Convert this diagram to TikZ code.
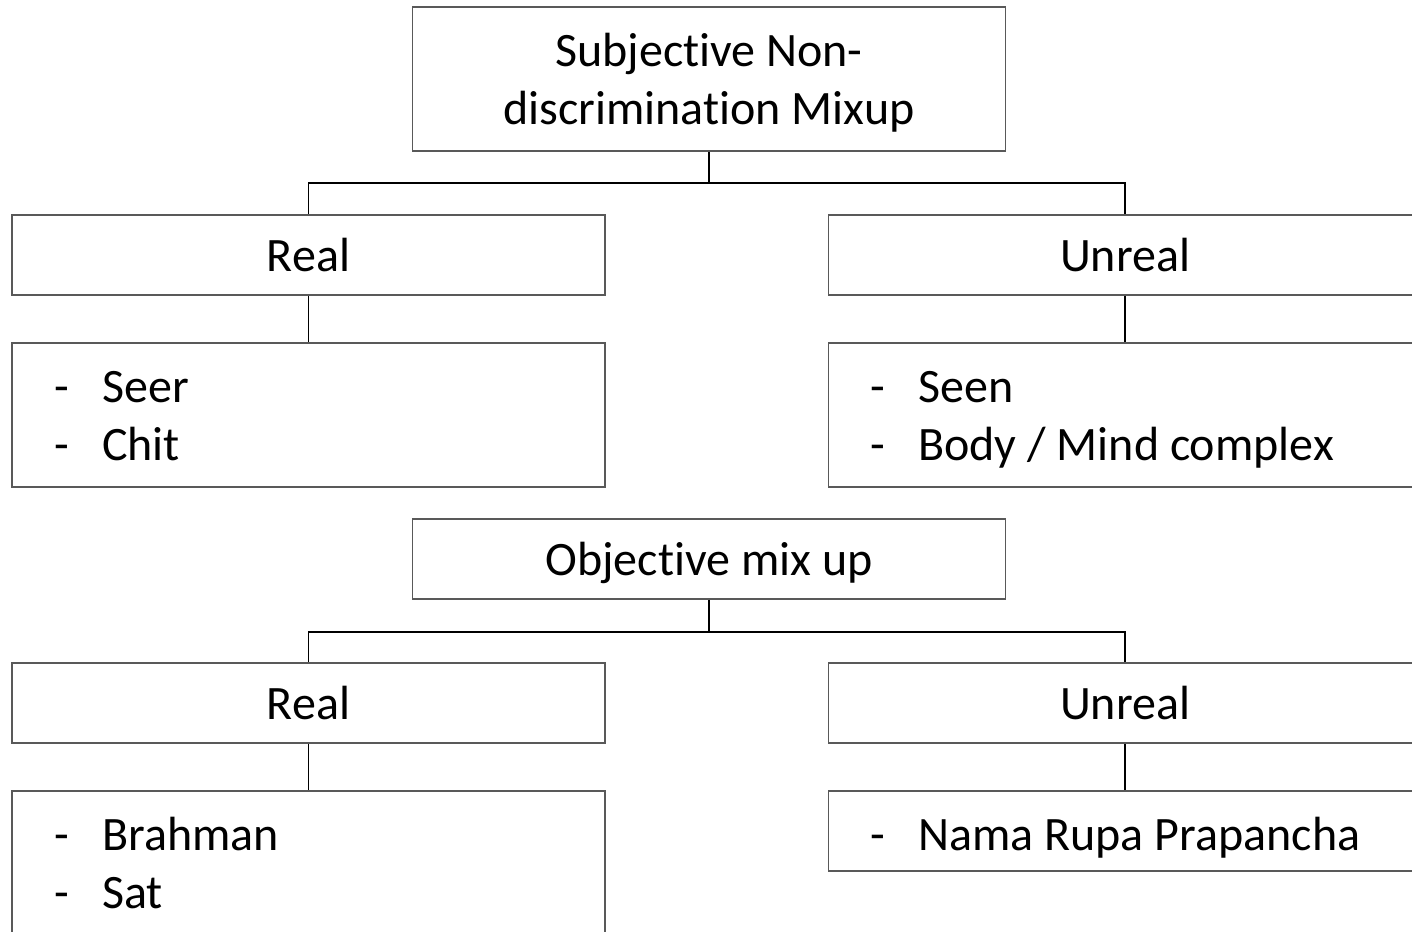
\documentclass[tikz,border=0pt]{standalone}
\usepackage{fontspec}
\setmainfont{Carlito}[Ligatures=NoCommon]
\definecolor{boxgray}{HTML}{595959}
\begin{document}
\begin{tikzpicture}[x=1pt,y=-1pt,
  box/.style={draw=boxgray, line width=1.5pt, inner sep=0pt, align=center,
    minimum width=593pt, font=\fontsize{48}{58}\selectfont},
  shortbox/.style={box, minimum height=80pt},
  tallbox/.style={box, minimum height=144pt},
  nodepth/.style={text depth=0pt},
  item/.style={inner sep=0pt, anchor=base west, font=\fontsize{48}{58}\selectfont},
  conn/.style={draw=black, line width=1.5pt}]
\useasboundingbox (0,0) rectangle (1412,931);
\clip (0,0) rectangle (1412,931);

% first tree
\node[tallbox, nodepth] (subj) at (709,79) {Subjective Non-\\discrimination Mixup};
\node[shortbox] (real1) at (308.5,255) {Real};
\node[shortbox] (unreal1) at (1125,255) {Unreal};
\node[tallbox] (list1) at (308.5,415) {};
\node[tallbox] (list2) at (1125,415) {};
\node[item] (d1) at (54,402) {-};
\node[item] (seer) at (102,402) {Seer};
\node[item] (d2) at (54,460) {-};
\node[item] (chit) at (102,460) {Chit};
\node[item] (d3) at (870,402) {-};
\node[item] (seen) at (918,402) {Seen};
\node[item] (d4) at (870,460) {-};
\node[item] (body) at (918,460) {Body / Mind complex};

\draw[conn] (subj.south) -- ++(0,31) coordinate (j1);
\draw[conn] (j1) -| (real1.north);
\draw[conn] (j1) -| (unreal1.north);
\draw[conn] (real1.south) -- (list1.north);
\draw[conn] (unreal1.south) -- (list2.north);

% second tree
\node[shortbox, nodepth] (obj) at (709,559) {Objective mix up};
\node[shortbox] (real2) at (308.5,703) {Real};
\node[shortbox] (unreal2) at (1125,703) {Unreal};
\node[tallbox] (list3) at (308.5,863) {};
\node[shortbox] (list4) at (1125,831) {};
\node[item] (d5) at (54,850) {-};
\node[item] (brahman) at (102,850) {Brahman};
\node[item] (d6) at (54,908) {-};
\node[item] (sat) at (102,908) {Sat};
\node[item] (d7) at (870,850) {-};
\node[item] (nama) at (918,850) {Nama Rupa Prapancha};

\draw[conn] (obj.south) -- ++(0,32) coordinate (j2);
\draw[conn] (j2) -| (real2.north);
\draw[conn] (j2) -| (unreal2.north);
\draw[conn] (real2.south) -- (list3.north);
\draw[conn] (unreal2.south) -- (list4.north);
\end{tikzpicture}
\end{document}
